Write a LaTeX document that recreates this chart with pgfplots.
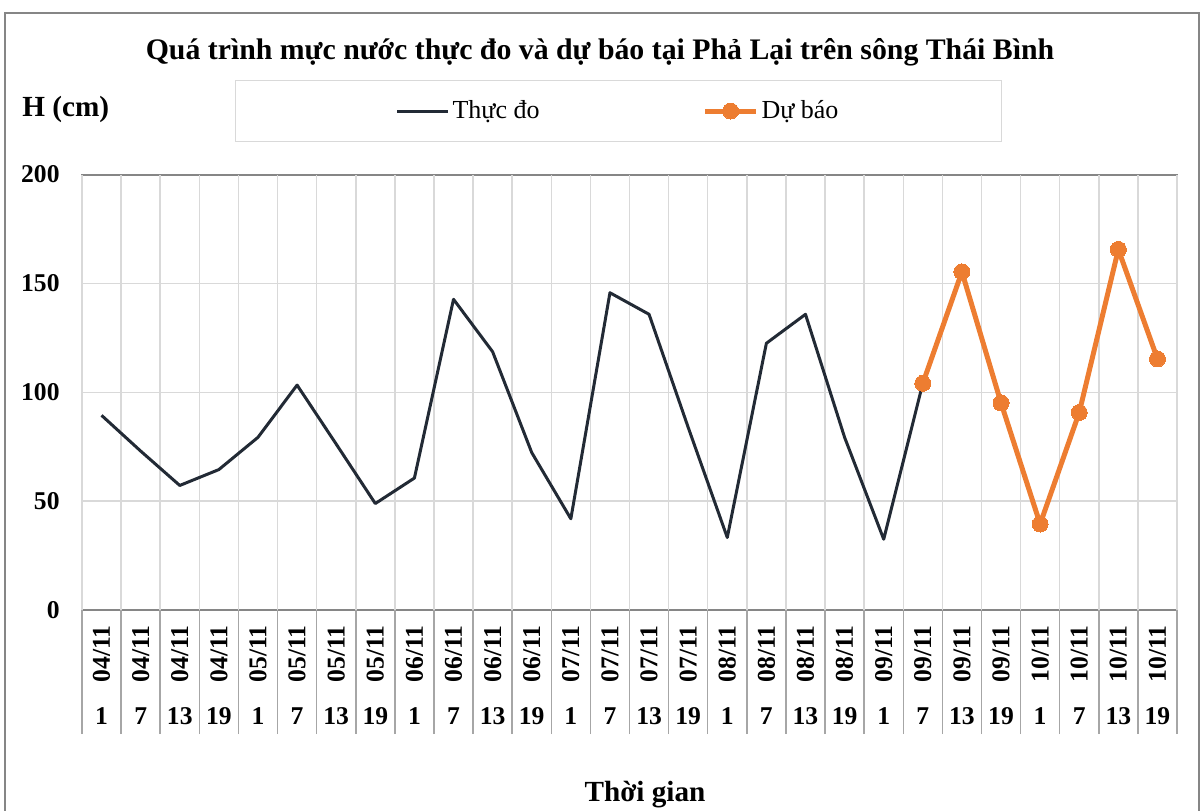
\documentclass[border=0pt]{standalone}
\usepackage{pgfplots}
\pgfplotsset{compat=1.18}
\usepackage{fontspec}
\setmainfont{Liberation Serif}
\definecolor{obs}{RGB}{34,42,53}
\definecolor{fc}{RGB}{237,125,49}
\definecolor{gridc}{RGB}{217,217,217}
\definecolor{framec}{RGB}{134,134,134}
\definecolor{sepc}{RGB}{166,166,166}
\newcommand\lab[2]{\vbox{\offinterlineskip\hbox to 0pt{\hss\rotatebox{90}{#1}\hss}\kern 12.5pt\hbox to 0pt{\hss#2\hss}}}
\begin{document}
\begin{tikzpicture}
\begin{axis}[
  at={(41pt,-305pt)}, anchor=south west,
  scale only axis, width=547.5pt, height=217.75pt,
  xmin=-0.5, xmax=27.5, ymin=0, ymax=200,
  axis line style={draw=framec, line width=1pt},
  tick pos=left,
  major tick length=0pt,
  xtick={0,...,27},
  xticklabels={\lab{04/11}{1},\lab{04/11}{7},\lab{04/11}{13},\lab{04/11}{19},
               \lab{05/11}{1},\lab{05/11}{7},\lab{05/11}{13},\lab{05/11}{19},
               \lab{06/11}{1},\lab{06/11}{7},\lab{06/11}{13},\lab{06/11}{19},
               \lab{07/11}{1},\lab{07/11}{7},\lab{07/11}{13},\lab{07/11}{19},
               \lab{08/11}{1},\lab{08/11}{7},\lab{08/11}{13},\lab{08/11}{19},
               \lab{09/11}{1},\lab{09/11}{7},\lab{09/11}{13},\lab{09/11}{19},
               \lab{10/11}{1},\lab{10/11}{7},\lab{10/11}{13},\lab{10/11}{19}},
  xticklabel style={font=\fontsize{12.8}{14}\selectfont\bfseries, anchor=north, inner sep=0pt, yshift=-7.5pt},
  extra x ticks={-0.5,0.5,...,27.5},
  extra x tick labels={},
  extra x tick style={grid=major, major tick length=62pt, tick align=outside,
     tick style={draw=sepc, line width=0.75pt}},
  ytick={0,50,100,150,200},
  yticklabels={0,50,100,150,200},
  yticklabel style={font=\fontsize{12.8}{14}\selectfont\bfseries, anchor=east, inner sep=0pt, xshift=-11pt},
  ymajorgrids,
  grid style={draw=gridc, line width=0.75pt},
  legend columns=2,
  legend style={at={(0.49,1.1458)}, anchor=center, draw=gridc, line width=0.5pt,
     font=\fontsize{13}{14}\selectfont, inner xsep=80pt, inner ysep=6pt,
     nodes={inner xsep=1.5pt, inner ysep=4pt},
     /tikz/every even column/.append style={column sep=80pt}},
  legend image code/.code={\draw[mark repeat=2,mark phase=2,#1] plot coordinates {(0pt,0pt) (12.75pt,0pt) (25.5pt,0pt)};},
]
\addplot[color=obs, line width=1.5pt, line join=round, mark=none] coordinates {
 (0,89.4) (1,73) (2,57.2) (3,64.5) (4,79.3) (5,103.3) (6,76.2) (7,48.9)
 (8,60.6) (9,142.7) (10,118.6) (11,72.3) (12,41.9) (13,145.7) (14,135.8) (15,83.9)
 (16,33.3) (17,122.5) (18,135.8) (19,79.3) (20,32.5) (21,104.1)};
\addlegendentry{Thực đo}
\addplot[color=fc, line width=2.5pt, line join=round, mark=*, mark size=4pt, mark options={fill=fc, draw=fc, line width=0pt}] coordinates {
 (21,104.1) (22,155.3) (23,95.1) (24,39.5) (25,90.7) (26,165.6) (27,115.3)};
\addlegendentry{Dự báo}
\end{axis}
\begin{scope}[x=0.5pt, y=-0.5pt]
\node[anchor=base, inner sep=0pt, font=\fontsize{14.9}{16}\selectfont\bfseries] at (600,59.5) {Quá trình mực nước thực đo và dự báo tại Phả Lại trên sông Thái Bình};
\node[anchor=base west, inner sep=0pt, font=\fontsize{14.6}{16}\selectfont\bfseries] at (22,116) {H (cm)};
\node[anchor=base, inner sep=0pt, font=\fontsize{14.6}{16}\selectfont\bfseries] at (645,801.5) {Thời gian};
\draw[draw=framec, line width=1pt] (5,840) -- (5,13) -- (1199,13) -- (1199,840);
\end{scope}
\pgfresetboundingbox
\path[use as bounding box] (0,0) rectangle (602pt,-405pt);
\end{tikzpicture}
\end{document}
